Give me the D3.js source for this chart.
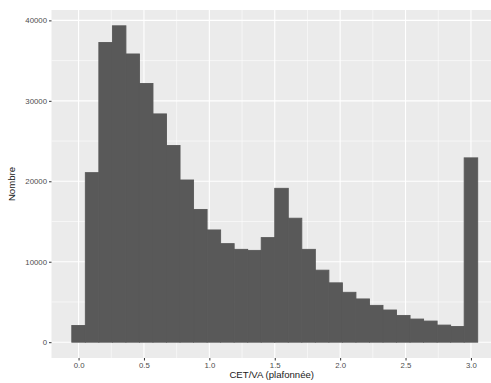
<!DOCTYPE html>
<html><head><meta charset="utf-8">
<script src="https://cdn.jsdelivr.net/npm/d3@7"></script>
<style>body{margin:0;background:#fff}svg{display:block}text{font-family:"Liberation Sans",Arial,sans-serif}</style>
</head><body>
<script>
// Histogram of CET/VA (capped at 3), 30 bins centred on k*3/29
const binCenters = d3.range(30).map(k => k * 3 / 29);
const counts = [2075, 21075, 37250, 39325, 35825, 32160, 28375, 24450, 20160, 16500,
                13950, 12250, 11540, 11410, 13000, 19125, 15410, 11540, 8950, 7375,
                6200, 5375, 4575, 4000, 3325, 2875, 2625, 2125, 1950, 22910];
const xTicks = [0, 0.5, 1.0, 1.5, 2.0, 2.5, 3.0];
const yTicks = [0, 10000, 20000, 30000, 40000];
const xTitle = "CET/VA (plafonnée)";
const yTitle = "Nombre";

const W = 491, H = 383;
const binW = 3 / 29;
const panel = {left: 51.5, top: 10, right: 498, bottom: 358};
const xmin = -binW/2, xmax = 3 + binW/2, xpad = (xmax - xmin) * 0.05;
const ymax = d3.max(counts), ypad = ymax * 0.05;
const x = d3.scaleLinear().domain([xmin - xpad, xmax + xpad]).range([panel.left, panel.right]);
const y = d3.scaleLinear().domain([-ypad, ymax + ypad]).range([panel.bottom, panel.top]);

const svg = d3.select("body").append("svg").attr("width", W).attr("height", H);
svg.append("rect").attr("x", panel.left).attr("y", panel.top)
  .attr("width", panel.right - panel.left).attr("height", panel.bottom - panel.top).attr("fill", "#EBEBEB");

const g = svg.append("g");
// minor grid
const xMinor = d3.range(-0.25, 3.3, 0.5);
xMinor.forEach(v => {
  if (x(v) < panel.left) return;
  g.append("line").attr("x1", x(v)).attr("x2", x(v)).attr("y1", panel.top).attr("y2", panel.bottom)
   .attr("stroke", "#fff").attr("stroke-width", 0.55);
});
[5000, 15000, 25000, 35000].forEach(v => {
  g.append("line").attr("x1", panel.left).attr("x2", panel.right).attr("y1", y(v)).attr("y2", y(v))
   .attr("stroke", "#fff").attr("stroke-width", 0.55);
});
xTicks.forEach(v => {
  g.append("line").attr("x1", x(v)).attr("x2", x(v)).attr("y1", panel.top).attr("y2", panel.bottom)
   .attr("stroke", "#fff").attr("stroke-width", 1.1);
});
yTicks.forEach(v => {
  g.append("line").attr("x1", panel.left).attr("x2", panel.right).attr("y1", y(v)).attr("y2", y(v))
   .attr("stroke", "#fff").attr("stroke-width", 1.1);
});

// bars
svg.append("g").selectAll("rect").data(counts).join("rect")
  .attr("x", (d, i) => x(binCenters[i] - binW/2))
  .attr("width", (d, i) => x(binCenters[i] + binW/2) - x(binCenters[i] - binW/2))
  .attr("y", d => y(d))
  .attr("height", d => y(0) - y(d))
  .attr("fill", "#595959")
  .attr("stroke", "#595959").attr("stroke-width", 0.9);

// axes
const xAxis = d3.axisBottom(x).tickValues(xTicks).tickFormat(d3.format(".1f")).tickSize(2.5).tickPadding(2);
const xa = svg.append("g").attr("transform", `translate(0,${panel.bottom})`).call(xAxis);
const yAxis = d3.axisLeft(y).tickValues(yTicks).tickFormat(d3.format("d")).tickSize(2.5).tickPadding(2);
const ya = svg.append("g").attr("transform", `translate(${panel.left},0)`).call(yAxis);
[xa, ya].forEach(a => {
  a.select(".domain").remove();
  a.selectAll(".tick line").attr("stroke", "#333").attr("stroke-width", 1);
  a.selectAll(".tick text").attr("fill", "#4D4D4D").attr("font-size", 7.8);
});

svg.append("text").attr("x", (panel.left + panel.right) / 2 - 3).attr("y", 378)
  .attr("text-anchor", "middle").attr("font-size", 9.6).attr("fill", "#1a1a1a").text(xTitle);
svg.append("text").attr("transform", `translate(15,${(panel.top + panel.bottom) / 2}) rotate(-90)`)
  .attr("text-anchor", "middle").attr("font-size", 9.6).attr("fill", "#1a1a1a").text(yTitle);
</script>
</body></html>
